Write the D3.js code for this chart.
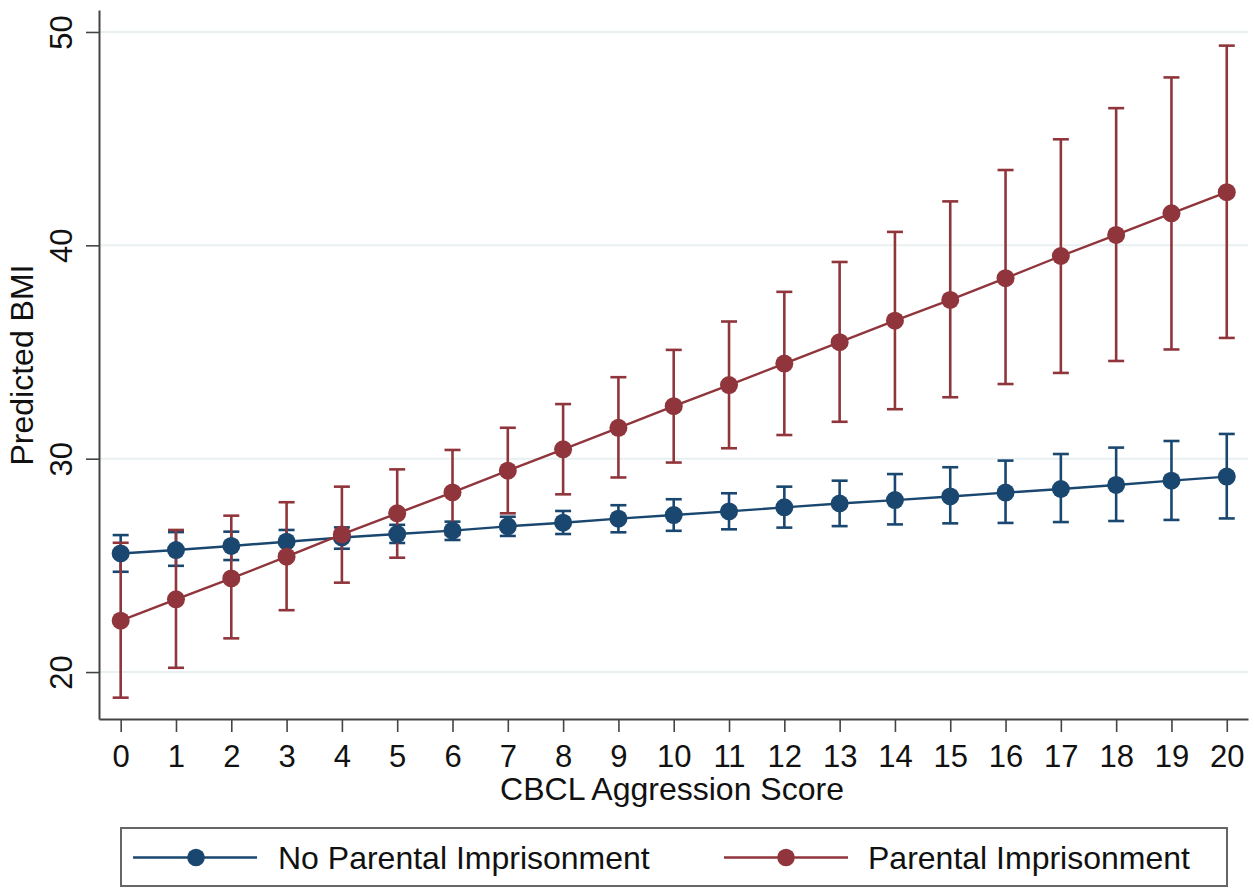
<!DOCTYPE html>
<html>
<head>
<meta charset="utf-8">
<script src="https://cdn.jsdelivr.net/npm/d3@7"></script>
<style>
  body { margin: 0; background: #fff; }
  svg { display: block; font-family: "Liberation Sans", Arial, sans-serif; }
</style>
</head>
<body>
<script>
// aggression score 0..20
var scores = [0,1,2,3,4,5,6,7,8,9,10,11,12,13,14,15,16,17,18,19,20];

// no parental imprisonment
var noImpMean  = [25.56,25.72,25.91,26.11,26.31,26.47,26.63,26.83,27.0,27.19,27.36,27.53,27.72,27.9,28.06,28.23,28.41,28.58,28.77,28.97,29.16];
var noImpLower = [24.70,24.98,25.25,25.55,25.78,26.05,26.19,26.38,26.47,26.55,26.62,26.69,26.77,26.84,26.92,26.97,26.99,27.03,27.08,27.13,27.2];
var noImpUpper = [26.42,26.56,26.58,26.66,26.78,26.90,27.05,27.28,27.55,27.82,28.1,28.38,28.69,28.97,29.28,29.6,29.91,30.22,30.52,30.83,31.16];

// parental imprisonment
var impMean  = [22.41,23.41,24.39,25.41,26.45,27.44,28.42,29.44,30.44,31.45,32.46,33.45,34.46,35.46,36.47,37.44,38.46,39.5,40.49,41.5,42.49];
var impLower = [18.8,20.2,21.58,22.9,24.19,25.36,26.43,27.44,28.33,29.12,29.82,30.49,31.11,31.73,32.32,32.88,33.5,34.02,34.58,35.12,35.66];
var impUpper = [26.06,26.66,27.33,27.96,28.69,29.5,30.41,31.45,32.56,33.82,35.1,36.43,37.82,39.22,40.63,42.06,43.53,44.97,46.43,47.87,49.36];

var yTicks = [20,30,40,50];
var seriesNames = ["No Parental Imprisonment","Parental Imprisonment"];
var colors = ["#1a476f","#90353b"];

var W = 1254, H = 888;
var svg = d3.select("body").append("svg").attr("width", W).attr("height", H);

var x = d3.scaleLinear().domain([-0.392, 20.384]).range([99, 1248]);
var y = d3.scaleLinear().domain([17.8, 51.03]).range([719, 10]);

// grid
svg.append("g").selectAll("line").data(yTicks).enter().append("line")
  .attr("x1", 100).attr("x2", 1248)
  .attr("y1", d => y(d)).attr("y2", d => y(d))
  .attr("stroke", "#e9f0f2").attr("stroke-width", 2);

// axes
var axisColor = "#444";
var xAxis = svg.append("g").attr("transform", "translate(0,719)")
  .call(d3.axisBottom(x).tickValues(scores).tickSize(13).tickSizeOuter(0).tickPadding(0).tickFormat(d3.format("d")));
xAxis.select(".domain").attr("stroke", axisColor).attr("stroke-width", 2);
xAxis.selectAll(".tick line").attr("stroke", axisColor).attr("stroke-width", 1.6);
xAxis.selectAll(".tick text").attr("y", 48).attr("dy", 0).attr("fill", "#111")
  .style("font-size", "31px").style("font-family", "Liberation Sans, Arial, sans-serif");

var yAxis = svg.append("g").attr("transform", "translate(99,0)")
  .call(d3.axisLeft(y).tickValues(yTicks).tickSize(13).tickSizeOuter(0).tickFormat(d3.format("d")));
yAxis.select(".domain").attr("stroke", axisColor).attr("stroke-width", 2);
yAxis.selectAll(".tick line").attr("stroke", axisColor).attr("stroke-width", 1.6);
yAxis.selectAll(".tick text")
  .attr("x", null).attr("dy", 0).attr("text-anchor", "middle")
  .attr("transform", "translate(-27,0) rotate(-90)")
  .attr("fill", "#111")
  .style("font-size", "31px").style("font-family", "Liberation Sans, Arial, sans-serif");

// axis titles
svg.append("text").attr("x", 672).attr("y", 800).attr("text-anchor", "middle")
  .style("font-size", "32px").attr("fill", "#111").text("CBCL Aggression Score");
svg.append("text").attr("transform", "translate(33,365) rotate(-90)").attr("text-anchor", "middle")
  .style("font-size", "32px").attr("fill", "#111").text("Predicted BMI");

var series = [
  {mean: noImpMean, lo: noImpLower, hi: noImpUpper, color: colors[0]},
  {mean: impMean, lo: impLower, hi: impUpper, color: colors[1]}
];

// confidence intervals first
var capW = 8;
series.forEach(function(s) {
  var g = svg.append("g").attr("stroke", s.color).attr("stroke-width", 2.6).attr("fill", "none");
  scores.forEach(function(k, i) {
    g.append("line").attr("x1", x(k)).attr("x2", x(k)).attr("y1", y(s.lo[i])).attr("y2", y(s.hi[i]));
    g.append("line").attr("x1", x(k) - capW).attr("x2", x(k) + capW).attr("y1", y(s.lo[i])).attr("y2", y(s.lo[i]));
    g.append("line").attr("x1", x(k) - capW).attr("x2", x(k) + capW).attr("y1", y(s.hi[i])).attr("y2", y(s.hi[i]));
  });
});

// connected lines + markers
var line = d3.line().x((d, i) => x(scores[i])).y(d => y(d));
series.forEach(function(s) {
  svg.append("path").datum(s.mean).attr("d", line)
    .attr("fill", "none").attr("stroke", s.color).attr("stroke-width", 2.4);
  svg.append("g").selectAll("circle").data(s.mean).enter().append("circle")
    .attr("cx", (d, i) => x(scores[i])).attr("cy", d => y(d)).attr("r", 9)
    .attr("fill", s.color);
});

// legend
svg.append("rect").attr("x", 121).attr("y", 828).attr("width", 1106).attr("height", 58)
  .attr("fill", "#fff").attr("stroke", "#666").attr("stroke-width", 2);
var legendX = [[133, 257, 196, 278], [724, 848, 786, 868]];
seriesNames.forEach(function(name, i) {
  var p = legendX[i];
  svg.append("line").attr("x1", p[0]).attr("x2", p[1]).attr("y1", 857.5).attr("y2", 857.5)
    .attr("stroke", colors[i]).attr("stroke-width", 2.6);
  svg.append("circle").attr("cx", p[2]).attr("cy", 857.5).attr("r", 8.8).attr("fill", colors[i]);
  svg.append("text").attr("x", p[3]).attr("y", 869).style("font-size", "32px").attr("fill", "#111").text(name);
});
</script>
</body>
</html>
